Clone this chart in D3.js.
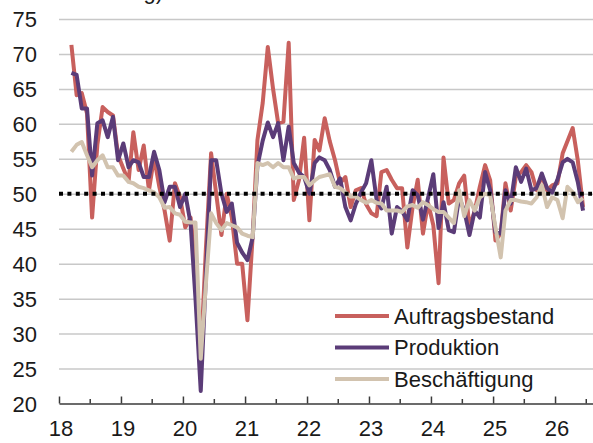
<!DOCTYPE html>
<html>
<head>
<meta charset="utf-8">
<script src="https://d3js.org/d3.v7.min.js"></script>
<style>
  body {
    margin: 0;
    background-color: #fff;
  }
  text {
    font-family: "Liberation Sans", Arial, sans-serif;
    fill: #1a1a1a;
  }
  .gridlines line {
    stroke: #c8c8c8;
    stroke-width: 1.5;
  }
  .gridlines .domain {
    stroke: none;
  }
</style>
</head>
<body>
<svg id="chart" width="593" height="443"></svg>
<script>

// monthly values, Mar 2018 .. Jun 2026
const auftragsbestand = [
  71.3, 64.1, 64.4, 61.5, 46.6, 57.0, 62.4, 61.7, 61.2, 55.5,
  53.6, 51.8, 58.8, 53.4, 56.9, 50.5, 55.2, 51.0, 47.6, 43.3,
  51.5, 49.5, 45.2, 46.6, 40.0, 26.5, 42.0, 55.8, 50.0, 44.1,
  50.0, 46.6, 40.0, 40.0, 31.9, 44.0, 57.7, 63.0, 71.0, 65.0,
  60.1, 60.3, 71.6, 49.1, 52.0, 58.0, 46.2, 57.7, 56.2, 60.8,
  57.5, 54.8, 51.5, 52.4, 48.1, 50.5, 50.8, 48.5, 47.2, 46.8,
  53.1, 53.4, 52.0, 50.8, 50.8, 42.3, 48.1, 52.0, 44.3, 48.7,
  45.5, 37.2, 55.2, 48.6, 49.1, 51.5, 52.6, 45.2, 47.6, 51.0,
  54.1, 51.9, 43.3, 44.3, 51.5, 47.6, 52.4, 53.1, 54.1, 53.1,
  50.5, 52.6, 50.5, 51.2, 51.5, 55.8, 57.5, 59.4, 54.8, 48.1
];
const produktion = [
  67.3, 67.0, 62.2, 62.2, 52.6, 60.1, 60.5, 58.1, 61.0, 54.8,
  57.2, 53.8, 54.8, 54.5, 52.4, 52.4, 56.0, 53.4, 48.8, 51.0,
  51.0, 48.1, 50.0, 45.8, 35.0, 21.8, 38.0, 54.8, 54.8, 50.0,
  47.4, 48.6, 43.0, 41.6, 40.5, 43.8, 54.0, 57.6, 60.2, 58.1,
  60.1, 54.8, 59.6, 54.4, 53.0, 52.4, 50.0, 54.4, 55.2, 54.8,
  53.4, 51.0, 52.2, 48.1, 46.2, 48.5, 50.2, 51.5, 54.8, 49.1,
  47.9, 51.0, 44.3, 48.1, 47.5, 46.2, 50.5, 49.8, 46.3, 49.4,
  52.8, 45.1, 48.8, 44.8, 44.5, 49.5, 47.6, 44.1, 47.6, 46.6,
  53.1, 50.5, 44.5, 44.3, 50.5, 48.6, 53.8, 51.7, 53.6, 50.5,
  50.8, 52.9, 50.8, 50.2, 52.0, 54.5, 55.0, 54.5, 51.7, 47.6
];
const beschaeftigung = [
  56.0, 57.0, 57.4, 55.5, 53.8, 54.8, 55.5, 53.8, 53.8, 52.6,
  52.6, 51.7, 51.5, 51.0, 50.8, 50.5, 50.2, 49.5, 48.0, 48.1,
  47.2, 47.0, 46.0, 45.9, 45.9, 26.4, 37.0, 47.2, 45.8, 44.8,
  45.8, 45.5, 45.2, 44.3, 44.0, 43.8, 54.4, 54.1, 54.4, 53.8,
  54.4, 53.8, 53.8, 52.2, 52.4, 52.4, 51.2, 51.9, 52.4, 52.6,
  52.8, 51.0, 50.8, 50.2, 49.6, 49.6, 49.1, 48.7, 49.1, 48.7,
  48.6, 47.6, 47.6, 47.6, 47.4, 48.2, 48.4, 48.0, 48.8, 48.4,
  47.8, 47.4, 47.4, 46.6, 45.8, 50.5, 46.8, 49.1, 47.6, 49.5,
  50.0, 49.8, 45.2, 40.9, 47.6, 49.1, 49.1, 48.9, 48.8, 48.6,
  49.5, 51.2, 48.1, 49.5, 49.1, 46.5, 51.0, 50.2, 48.8, 49.4
];

// one entry per month, plotted mid-month
const months = d3.timeMonth.range(new Date(2018, 2, 1), new Date(2026, 6, 1));

const yTicks = [20, 25, 30, 35, 40, 45, 50, 55, 60, 65, 70, 75];
const xTickLabels = ["18", "19", "20", "21", "22", "23", "24", "25", "26"];
const threshold = 50;

const seriesNames = ["Auftragsbestand", "Produktion", "Beschäftigung"];
const seriesValues = [auftragsbestand, produktion, beschaeftigung];
const colors = ["#c8605d", "#5b3c78", "#d2c3af"];

let svg = d3.select("svg#chart");
const width = svg.attr("width");
const height = svg.attr("height");
const margin = { top: 19, right: 0, bottom: 39, left: 59 };

// 62px per year, axis starts at Jan 2018
const xScale = d3.scaleTime()
  .domain([new Date(2018, 0, 1), new Date(2027, 0, 1)])
  .range([margin.left, margin.left + 9 * 62]);
const yScale = d3.scaleLinear()
  .domain([20, 75])
  .range([height - margin.bottom - 0.5, margin.top]);

// cut off title line at the very top (only descenders show, like the original)
svg.append("text")
  .attr("x", 163)
  .attr("y", -1)
  .attr("text-anchor", "end")
  .style("font-size", "22px")
  .text("Veränderung)");

// gridlines + y labels
let leftAxis = d3.axisLeft(yScale)
  .tickValues(yTicks)
  .tickSize(-(width - margin.left))
  .tickPadding(22)
  .tickFormat(d3.format("d"));
let leftAxisG = svg.append("g")
  .attr("class", "gridlines")
  .attr("transform", `translate(${margin.left},0)`)
  .call(leftAxis);
leftAxisG.selectAll("text")
  .style("font-size", "22px")
  .attr("dy", "0.36em");
leftAxisG.selectAll(".tick").filter(d => d === 20).select("line").remove();

// x axis: ticks every half year pointing up, labels at year starts
const halfYears = d3.timeMonth.every(6).range(new Date(2018, 0, 1), new Date(2026, 11, 2));
let bottomAxis = d3.axisBottom(xScale)
  .tickValues(halfYears)
  .tickSizeInner(-5)
  .tickSizeOuter(0)
  .tickFormat("");
let bottomAxisG = svg.append("g")
  .attr("transform", `translate(0,${yScale(20)})`)
  .call(bottomAxis);
bottomAxisG.select(".domain")
  .attr("stroke", "#3a3a3a")
  .attr("stroke-width", 1.5);
bottomAxisG.selectAll(".tick line")
  .attr("stroke", "#3a3a3a")
  .attr("stroke-width", 1.5)
  .attr("y2", d => d.getMonth() === 0 ? -7 : -4.5);

svg.append("g")
  .selectAll("text")
  .data(xTickLabels)
  .join("text")
  .attr("x", (d, i) => xScale(new Date(2018 + i, 0, 1)) + 2)
  .attr("y", 436)
  .attr("text-anchor", "middle")
  .style("font-size", "22px")
  .text(d => d);

// the three series, first one at the bottom
const line = d3.line()
  .x((d, i) => xScale(d3.timeDay.offset(months[i], 14)))
  .y(d => yScale(d));

let chartArea = svg.append("g").attr("id", "lines");
seriesValues.forEach((vals, k) => {
  chartArea.append("path")
    .datum(vals)
    .attr("fill", "none")
    .attr("stroke", colors[k])
    .attr("stroke-width", 4)
    .attr("stroke-linejoin", "round")
    .attr("d", line);
});

// dotted 50 line on top
svg.append("line")
  .attr("x1", margin.left)
  .attr("x2", 592)
  .attr("y1", yScale(threshold))
  .attr("y2", yScale(threshold))
  .attr("stroke", "#000")
  .attr("stroke-width", 4)
  .attr("stroke-dasharray", "4,4.4");

// legend
let legend = svg.append("g").attr("id", "legend");
seriesNames.forEach((name, k) => {
  const ly = 316 + k * 31.5;
  legend.append("line")
    .attr("x1", 335).attr("x2", 389)
    .attr("y1", ly).attr("y2", ly)
    .attr("stroke", colors[k])
    .attr("stroke-width", 4);
  legend.append("text")
    .attr("x", 394)
    .attr("y", ly + 7.5)
    .style("font-size", "22px")
    .text(name);
});

</script>
</body>
</html>
